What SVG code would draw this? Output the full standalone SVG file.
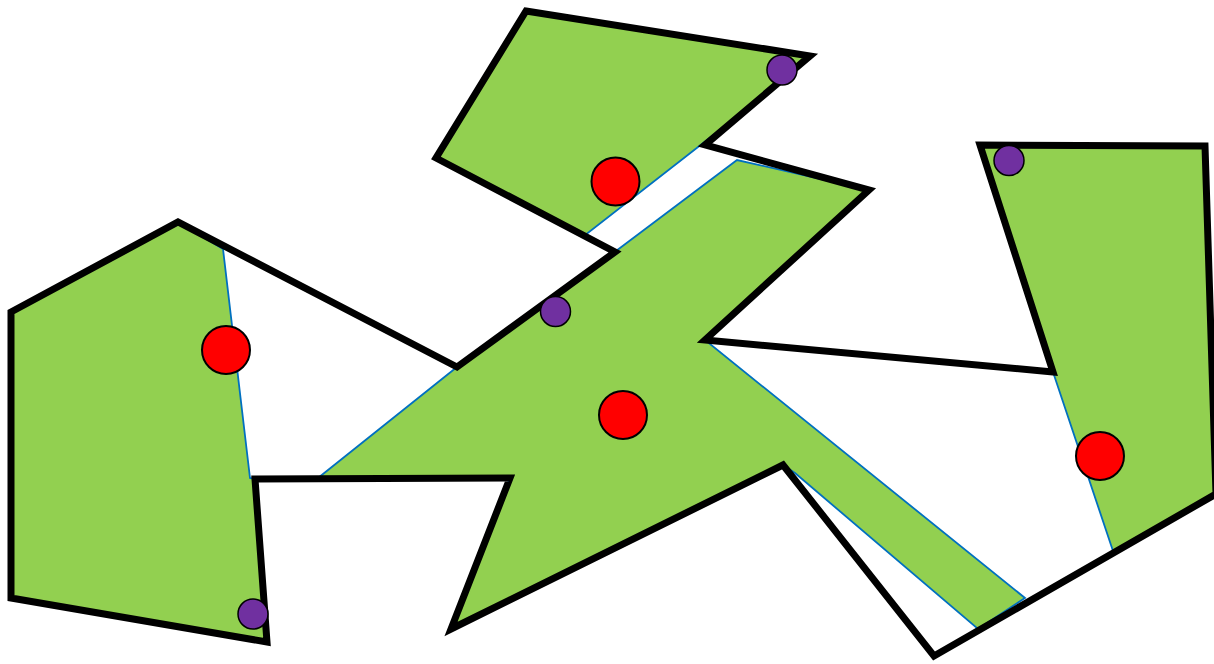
<svg xmlns="http://www.w3.org/2000/svg" width="1214" height="664" viewBox="0 0 1214 664">
  <style>
    .region { fill: #92D050; stroke: #0070C0; stroke-width: 1.8; stroke-linejoin: miter; }
    .outline { fill: none; stroke: #000000; stroke-width: 7; stroke-linejoin: miter; stroke-miterlimit: 10; }
    .red { fill: #FF0000; stroke: #000000; stroke-width: 2; }
    .purple { fill: #7030A0; stroke: #000000; stroke-width: 1.5; }
  </style>
  <rect width="1214" height="664" fill="#FFFFFF"/>
  <g id="regions">
    <polygon id="region-left" class="region" points="178,222 223,249 250,478 255,479 267,642 11,598 11,312"/>
    <polygon id="region-top" class="region" points="526,11 810,56 757,101 584,236 436,158"/>
    <polygon id="region-center" class="region" points="318,478 457,367 616,251 737,160 869,190 705,340 1025,598 978,629 795,473 783,465 451,629 510,478"/>
    <polygon id="region-right" class="region" points="980,145 1205,146 1216,494 1113,551 1053,372"/>
  </g>
  <g id="outline">
    <polygon class="outline" points="526,11 810,56 705,145 869,190 705,340 1053,372 980,145 1205,146 1216,494 934,656 783,465 451,629 510,478 255,479 267,642 11,598 11,312 178,222 457,367 615,252 436,158"/>
  </g>
  <g id="points">
    <circle id="red-top" class="red" cx="615.5" cy="181.5" r="24"/>
    <circle id="red-left" class="red" cx="226" cy="350" r="24"/>
    <circle id="red-center" class="red" cx="623" cy="415" r="24"/>
    <circle id="red-right" class="red" cx="1100" cy="456" r="24"/>
    <circle id="purple-top" class="purple" cx="782" cy="70" r="15"/>
    <circle id="purple-center" class="purple" cx="555.5" cy="311.5" r="15"/>
    <circle id="purple-left" class="purple" cx="253" cy="614" r="15"/>
    <circle id="purple-right" class="purple" cx="1009" cy="160.5" r="15"/>
  </g>
</svg>
